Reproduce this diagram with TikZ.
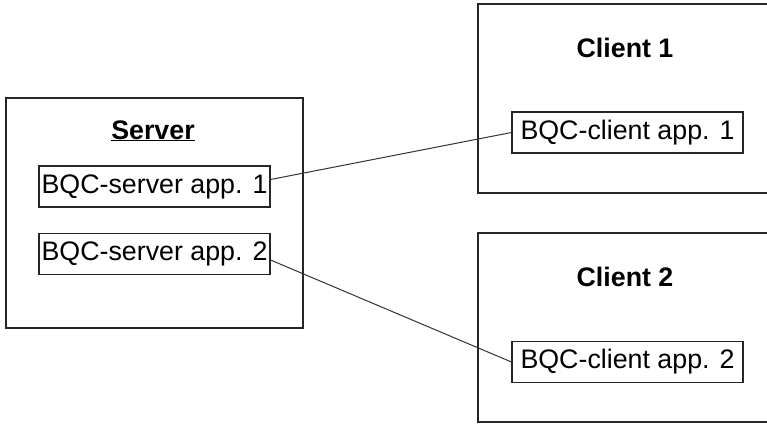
\documentclass[tikz,border=0pt]{standalone}
\usepackage{fontspec}
\setmainfont{Liberation Sans}
\begin{document}
\begin{tikzpicture}[x=1pt,y=-1pt,
  outerbox/.style={draw=black!85,line width=1.1pt,fill=white,inner sep=0pt},
  appbox/.style={draw=black!85,line width=1.1pt,fill=white,inner sep=0pt,minimum width=231pt,minimum height=41pt,font=\fontsize{26.8}{30}\selectfont},
  title/.style={anchor=base,inner sep=0pt,font=\fontsize{26.8}{30}\selectfont\bfseries},
  link/.style={draw=black!80,line width=1pt}]
\clip (0,0) rectangle (767,426);
\fill[white] (0,0) rectangle (767,426);
% outer boxes
\node[outerbox,minimum width=297pt,minimum height=230pt] (server) at (154.5,213) {};
\node[outerbox,minimum width=312pt,minimum height=189pt] (client1) at (634,98.5) {};
\node[outerbox,minimum width=312pt,minimum height=189pt] (client2) at (634,327.5) {};
% titles
\node[title] (stitle) at (153,139) {\underline{Server}};
\node[title] (c1title) at (625,57) {Client 1};
\node[title] (c2title) at (625,286.5) {Client 2};
% applications
\node[appbox] (sa1) at (154.5,186.5) {BQC-server app. 1};
\node[appbox] (sa2) at (154.5,254) {BQC-server app. 2};
\node[appbox] (ca1) at (627.5,132.5) {BQC-client app. 1};
\node[appbox] (ca2) at (627.5,362) {BQC-client app. 2};
% links
\draw[link] ([yshift=7pt]sa1.east) -- (ca1.west);
\draw[link] ([yshift=-6pt]sa2.east) -- (ca2.west);
\end{tikzpicture}
\end{document}
